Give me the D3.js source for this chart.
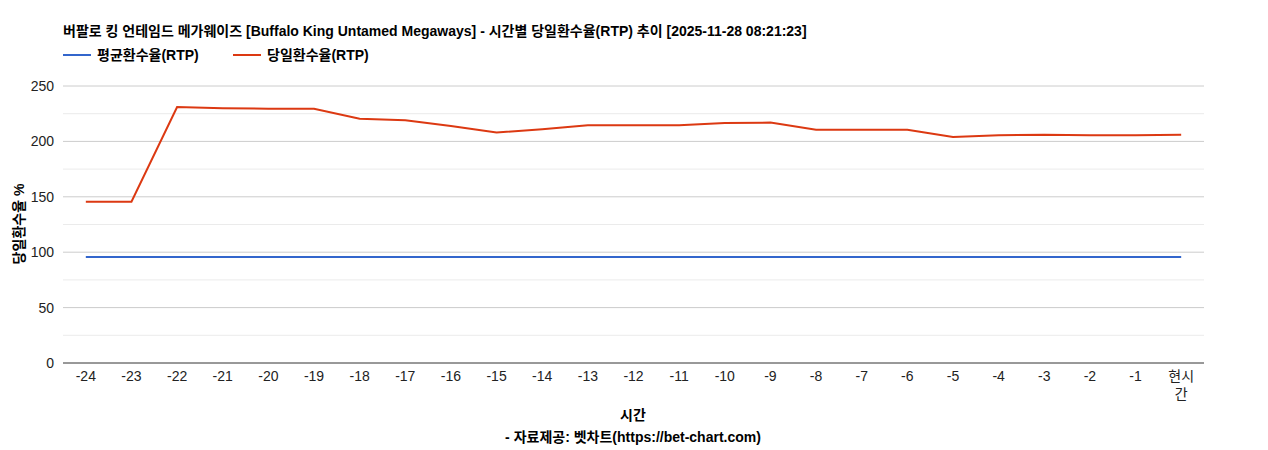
<!DOCTYPE html>
<html><head><meta charset="utf-8">
<script src="https://cdn.jsdelivr.net/npm/d3@7"></script>
<style>body{margin:0;background:#fff;font-family:"Liberation Sans","Noto Sans CJK KR",sans-serif;}</style>
</head><body><svg id="c" width="1268" height="450"></svg>
<script>
const categories = ['-24','-23','-22','-21','-20','-19','-18','-17','-16','-15','-14','-13','-12','-11','-10','-9','-8','-7','-6','-5','-4','-3','-2','-1','현시간'];
const dailyRtp = [145.5,145.5,231,230,229.5,229.5,220.5,219,214,208,211,214.5,214.5,214.5,216.5,217,210.5,210.5,210.5,204,205.5,206,205.5,205.5,206];
const avgRtp = categories.map(() => 95.7);
const yTicks = [0,50,100,150,200,250];

const svg = d3.select('#c').style('font-family', '"Liberation Sans","Noto Sans CJK KR",sans-serif');
const m = {left: 63, right: 1204, top: 86, bottom: 363};
const x = d3.scalePoint().domain(categories).range([m.left, m.right]).padding(0.5);
const y = d3.scaleLinear().domain([0, 250]).range([m.bottom, m.top]);

// grid
svg.append('g').selectAll('line').data(d3.range(25, 250, 50)).join('line')
  .attr('x1', m.left).attr('x2', m.right).attr('y1', d => y(d)).attr('y2', d => y(d))
  .attr('stroke', '#ebebeb');
svg.append('g').selectAll('line').data(yTicks.slice(1)).join('line')
  .attr('x1', m.left).attr('x2', m.right).attr('y1', d => y(d)).attr('y2', d => y(d))
  .attr('stroke', '#cccccc');
svg.append('line').attr('x1', m.left).attr('x2', m.right).attr('y1', y(0)).attr('y2', y(0)).attr('stroke', '#333');

svg.append('g').selectAll('text').data(yTicks).join('text')
  .attr('x', 54).attr('y', d => y(d) + 5).attr('text-anchor', 'end')
  .attr('font-size', 14).attr('fill', '#222').text(d => d);

const xl = svg.append('g').selectAll('text').data(categories).join('text')
  .attr('x', d => x(d)).attr('y', 381).attr('text-anchor', 'middle')
  .attr('font-size', 14).attr('fill', '#222');
xl.each(function(d) {
  const t = d3.select(this);
  if (d.length > 2 && d[0] !== '-') {
    t.append('tspan').attr('x', x(d)).text(d.slice(0, 2));
    t.append('tspan').attr('x', x(d)).attr('dy', 18).text(d.slice(2));
  } else t.text(d);
});

const line = d3.line().x((d, i) => x(categories[i])).y(d => y(d));
svg.append('path').datum(avgRtp).attr('d', line).attr('fill', 'none').attr('stroke', '#3366cc').attr('stroke-width', 2);
svg.append('path').datum(dailyRtp).attr('d', line).attr('fill', 'none').attr('stroke', '#dc3912').attr('stroke-width', 2);

// titles
svg.append('text').attr('x', 63).attr('y', 36).attr('font-size', 14).attr('font-weight', 'bold').attr('fill', '#000')
  .text('버팔로 킹 언테임드 메가웨이즈 [Buffalo King Untamed Megaways] - 시간별 당일환수율(RTP) 추이 [2025-11-28 08:21:23]');
const leg = [['평균환수율(RTP)', '#3366cc', 63], ['당일환수율(RTP)', '#dc3912', 233]];
leg.forEach(([t, c, lx]) => {
  svg.append('line').attr('x1', lx).attr('x2', lx + 28).attr('y1', 55).attr('y2', 55).attr('stroke', c).attr('stroke-width', 2);
  svg.append('text').attr('x', lx + 34).attr('y', 60).attr('font-size', 14).attr('font-weight', 'bold').text(t);
});
svg.append('text').attr('x', 633).attr('y', 420).attr('text-anchor', 'middle').attr('font-size', 14).attr('font-weight', 'bold').text('시간');
svg.append('text').attr('x', 633).attr('y', 442).attr('text-anchor', 'middle').attr('font-size', 14).attr('font-weight', 'bold').text('- 자료제공: 벳차트(https://bet-chart.com)');
svg.append('text').attr('transform', 'translate(24,224) rotate(-90)').attr('text-anchor', 'middle')
  .attr('font-size', 14).attr('font-weight', 'bold').text('당일환수율 %');
</script></body></html>
